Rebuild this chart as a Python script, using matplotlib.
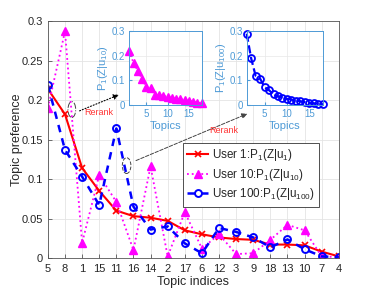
import numpy as np
import matplotlib as mpl
mpl.use('Agg')
import matplotlib.pyplot as plt
from matplotlib.patches import Ellipse

plt.rcParams['font.family'] = ['Liberation Sans', 'DejaVu Sans']
plt.rcParams['mathtext.fontset'] = 'custom'
plt.rcParams['mathtext.rm'] = 'Liberation Sans'
plt.rcParams['mathtext.it'] = 'Liberation Sans:italic'

# topic order on the x axis
topics = ['5', '8', '1', '15', '11', '16', '14', '2', '17', '6', '12', '3', '9', '18', '13', '10', '7', '4']
user1 = [0.214, 0.182, 0.114, 0.085, 0.060, 0.053, 0.051, 0.047, 0.035, 0.030,
         0.026, 0.024, 0.023, 0.017, 0.017, 0.016, 0.008, 0.002]
user10 = [0.190, 0.287, 0.019, 0.105, 0.071, 0.010, 0.116, 0.002, 0.058, 0.012,
          0.030, 0.005, 0.006, 0.023, 0.042, 0.035, 0.002, 0.001]
user100 = [0.219, 0.137, 0.103, 0.067, 0.164, 0.065, 0.036, 0.040, 0.0185, 0.006,
           0.038, 0.033, 0.026, 0.0135, 0.0235, 0.011, 0.002, 0.001]
# sorted (reranked) preferences shown in the insets
inset10 = [0.219, 0.169, 0.139, 0.105, 0.072, 0.068, 0.042, 0.039, 0.037, 0.033,
           0.030, 0.026, 0.024, 0.020, 0.017, 0.014, 0.010, 0.007]
inset100 = [0.289, 0.189, 0.118, 0.107, 0.072, 0.060, 0.043, 0.035, 0.030, 0.025,
            0.022, 0.018, 0.015, 0.012, 0.009, 0.007, 0.004, 0.003]

TXT = '#262626'
IBLUE = '#4d9ad6'
TickSize, LabelSize = 8, 9

fig = plt.figure(figsize=(3.74, 2.93), dpi=100)
ax = fig.add_axes([0.128, 0.1195, 0.778, 0.8085])
x = np.arange(len(topics))
ax.plot(x, user1, '-x', color='red', lw=1.5, ms=4, mew=1.2, label='User 1:P$_1$(Z|u$_1$)')
ax.plot(x, user10, ':^', color='magenta', lw=1.3, ms=6, mfc='magenta', label='User 10:P$_1$(Z|u$_{10}$)')
ax.plot(x, user100, '--o', color='blue', lw=1.8, ms=5, mfc='none', mew=1.4, dashes=(3, 2.5),
        label='User 100:P$_1$(Z|u$_{100}$)')
ax.set_xlim(0, len(topics) - 1)
ax.set_ylim(0, 0.3)
ax.set_xticks(x)
ax.set_xticklabels(topics, fontsize=TickSize, color=TXT)
yt = [0, 0.05, 0.1, 0.15, 0.2, 0.25, 0.3]
ax.set_yticks(yt)
ax.set_yticklabels(['0', '0.05', '0.1', '0.15', '0.2', '0.25', '0.3'], fontsize=TickSize, color=TXT)
ax.tick_params(direction='in', length=3, color='#555555', width=0.6)
ax.tick_params(axis='x', pad=4)
ax.grid(True, color='#e4e4e4', lw=0.6)
for s in ax.spines.values():
    s.set_color('#555555')
    s.set_linewidth(0.6)
ax.set_xlabel('Topic indices', fontsize=LabelSize, color=TXT, labelpad=2)
ax.set_ylabel('Topic preference', fontsize=LabelSize, color=TXT, labelpad=-1)
leg = ax.legend(loc='lower right', bbox_to_anchor=(0.953, 0.19), fontsize=8.4, fancybox=False,
                edgecolor='#333333', framealpha=1, handlelength=1.8, borderpad=0.4,
                labelspacing=0.3, handletextpad=0.3)
leg.get_frame().set_linewidth(0.6)
for t in leg.get_texts():
    t.set_color(TXT)

# rerank annotations
ax.add_patch(Ellipse((1.4, 0.188), 0.45, 0.02, fill=False, ls='-.', lw=0.7, color='#444444'))
ax.annotate('', xy=(4.3, 0.208), xytext=(1.7, 0.185),
            arrowprops=dict(arrowstyle='-|>', ls=':', color='black', lw=0.8, mutation_scale=8))
ax.text(3.0, 0.184, 'Rerank', color='#ff3333', fontsize=6.5, ha='center', va='center')
ax.add_patch(Ellipse((4.6, 0.117), 0.5, 0.02, fill=False, ls='--', lw=0.7, color='#444444'))
ax.annotate('', xy=(11.8, 0.184), xytext=(5.0, 0.122),
            arrowprops=dict(arrowstyle='-|>', ls='--', color='#444444', lw=0.7, mutation_scale=8))
ax.text(10.3, 0.161, 'Rerank', color='#ff3333', fontsize=6.5, ha='center', va='center')

def inset(rect, vals, style, ylab):
    ia = fig.add_axes(rect)
    k = np.arange(1, len(vals) + 1)
    ia.plot(k, vals, **style)
    ia.set_xlim(1, 18)
    ia.set_ylim(0, 0.3)
    ia.set_xticks([5, 10, 15])
    ia.set_yticks([0, 0.1, 0.2, 0.3])
    ia.set_yticklabels(['0', '0.1', '0.2', '0.3'])
    ia.tick_params(direction='in', length=2, labelsize=7, colors=IBLUE, pad=3)
    ia.grid(True, color='#e8e8e8', lw=0.5)
    for s in ia.spines.values():
        s.set_color(IBLUE)
        s.set_linewidth(0.7)
    ia.set_xlabel('Topics', fontsize=8, color=IBLUE, labelpad=1)
    ia.set_ylabel(ylab, fontsize=8, color=IBLUE, labelpad=1)
    return ia

inset([0.3457, 0.6416, 0.1936, 0.2526], inset10,
      dict(ls=':', marker='^', color='magenta', lw=1.2, ms=6, mfc='magenta', clip_on=False),
      'P$_1$(Z|u$_{10}$)')
inset([0.6596, 0.6416, 0.2032, 0.2526], inset100,
      dict(ls='--', marker='o', color='blue', lw=1.6, ms=5, mfc='none', mew=1.3, clip_on=False),
      'P$_1$(Z|u$_{100}$)')

plt.savefig('out.png', dpi=100)
